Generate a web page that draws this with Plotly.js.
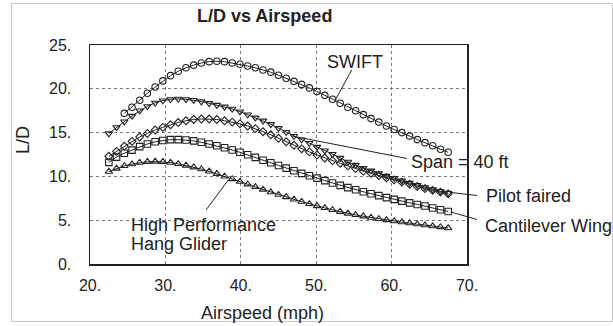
<!DOCTYPE html>
<html>
<head>
<meta charset="utf-8">
<script src="https://cdn.plot.ly/plotly-3.0.1.min.js"></script>
<style>
  html, body { margin: 0; padding: 0; background: #fff; }
  #chart { width: 613px; height: 326px; }
</style>
</head>
<body>
<div id="chart"></div>
<script>
// Airspeed (mph)
const airspeed = [22.50, 23.52, 24.55, 25.57, 26.59, 27.61, 28.64, 29.66, 30.68, 31.70,
  32.73, 33.75, 34.77, 35.80, 36.82, 37.84, 38.86, 39.89, 40.91, 41.93,
  42.95, 43.98, 45.00, 46.02, 47.05, 48.07, 49.09, 50.11, 51.14, 52.16,
  53.18, 54.20, 55.23, 56.25, 57.27, 58.30, 59.32, 60.34, 61.36, 62.39,
  63.41, 64.43, 65.45, 66.48, 67.50];

const swift = [null, null, 17.2, 17.9, 18.7, 19.5, 20.2, 20.9, 21.5, 22.0,
  22.4, 22.7, 22.95, 23.1, 23.15, 23.1, 22.95, 22.8, 22.6, 22.4,
  22.15, 21.9, 21.55, 21.2, 20.85, 20.5, 20.1, 19.7, 19.25, 18.8,
  18.35, 17.9, 17.5, 17.05, 16.6, 16.2, 15.75, 15.35, 15.0, 14.6,
  14.2, 13.85, 13.5, 13.1, 12.75];

const span40 = [14.9, 15.6, 16.25, 16.9, 17.5, 18.0, 18.4, 18.65, 18.8, 18.85,
  18.8, 18.7, 18.55, 18.35, 18.15, 17.95, 17.7, 17.4, 17.05, 16.7,
  16.35, 15.95, 15.5, 15.05, 14.6, 14.2, 13.8, 13.35, 12.95, 12.55,
  12.1, 11.65, 11.3, 10.95, 10.65, 10.35, 10.05, 9.8, 9.5, 9.25,
  9.0, 8.75, 8.5, 8.3, 8.1];

const pilotFaired = [12.3, 12.85, 13.45, 14.0, 14.5, 14.9, 15.3, 15.6, 15.9, 16.15,
  16.35, 16.5, 16.55, 16.55, 16.5, 16.35, 16.2, 16.0, 15.75, 15.45,
  15.1, 14.75, 14.35, 13.95, 13.55, 13.15, 12.8, 12.45, 12.1, 11.8,
  11.5, 11.2, 10.9, 10.6, 10.35, 10.1, 9.85, 9.6, 9.35, 9.1,
  8.85, 8.6, 8.4, 8.2, 8.0];

const cantilever = [11.6, 12.2, 12.65, 13.0, 13.4, 13.7, 13.95, 14.1, 14.2, 14.2,
  14.15, 14.05, 13.9, 13.7, 13.5, 13.27, 13.02, 12.75, 12.47, 12.17,
  11.85, 11.55, 11.25, 10.95, 10.65, 10.35, 10.08, 9.8, 9.52, 9.25,
  8.98, 8.72, 8.48, 8.25, 8.02, 7.8, 7.58, 7.38, 7.18, 6.98,
  6.8, 6.62, 6.4, 6.2, 6.0];

const hangGlider = [10.55, 10.9, 11.2, 11.4, 11.57, 11.67, 11.7, 11.67, 11.58, 11.43,
  11.25, 11.05, 10.83, 10.58, 10.3, 10.0, 9.7, 9.4, 9.1, 8.8,
  8.5, 8.2, 7.92, 7.65, 7.38, 7.12, 6.86, 6.62, 6.4, 6.18,
  5.97, 5.77, 5.6, 5.45, 5.3, 5.15, 5.02, 4.9, 4.78, 4.66,
  4.55, 4.44, 4.33, 4.22, 4.1];

const xTickVals = [20, 30, 40, 50, 60, 70];
const xTickText = ['20.', '30.', '40.', '50.', '60.', '70.'];
const yTickVals = [0, 5, 10, 15, 20, 25];
const yTickText = ['0.', '5.', '10.', '15.', '20.', '25.'];

const FONT = 'Liberation Sans, Arial, sans-serif';
const INK = '#222';

function series(name, y, symbol, size) {
  return {
    type: 'scatter', mode: 'lines+markers', name: name,
    x: airspeed, y: y,
    line: { color: INK, width: 1 },
    marker: { symbol: symbol, size: size, color: INK, line: { color: INK, width: 1.1 } },
    connectgaps: false, hoverinfo: 'skip'
  };
}

const data = [
  series('High Performance Hang Glider', hangGlider, 'triangle-up-open', 6.5),
  series('Cantilever Wing', cantilever, 'square-open', 6.5),
  series('Pilot faired', pilotFaired, 'diamond-open', 6),
  series('Span = 40 ft', span40, 'triangle-down-open', 6.5),
  series('SWIFT', swift, 'circle-open', 6.5)
];

function px(x) { return (x - 90) / 377; }
function py(y) { return (264 - y) / 219; }

function seg(x0, y0, x1, y1, color, w) {
  return { type: 'line', xref: 'paper', yref: 'paper',
    x0: px(x0), y0: py(y0), x1: px(x1), y1: py(y1),
    line: { color: color || INK, width: w || 1 } };
}

function label(text, x, y, opts) {
  return Object.assign({ xref: 'paper', yref: 'paper', x: px(x), y: py(y), text: text,
    showarrow: false, xanchor: 'left', yanchor: 'middle',
    font: { family: FONT, size: 18, color: INK } }, opts || {});
}

const layout = {
  width: 613, height: 326,
  margin: { l: 90, r: 146, t: 45, b: 62 },
  paper_bgcolor: '#fff', plot_bgcolor: '#fff',
  showlegend: false,
  xaxis: {
    range: [20, 70], tickvals: xTickVals, ticktext: xTickText,
    showgrid: true, gridcolor: '#777', griddash: 'dot', gridwidth: 1,
    zeroline: false, showline: true, mirror: true, linecolor: INK, linewidth: 1.5,
    ticks: '', ticklabelstandoff: 6,
    tickfont: { family: FONT, size: 16, color: INK }
  },
  yaxis: {
    range: [0, 25], tickvals: yTickVals, ticktext: yTickText,
    showgrid: true, gridcolor: '#777', griddash: 'dot', gridwidth: 1,
    zeroline: false, showline: true, mirror: true, linecolor: INK, linewidth: 1.5,
    ticks: '', ticklabelstandoff: 14,
    tickfont: { family: FONT, size: 16, color: INK }
  },
  shapes: [
    { type: 'rect', xref: 'paper', yref: 'paper', x0: px(11.5), y0: py(3.5), x1: px(612.5), y1: py(321.5),
      line: { color: '#c8c8c8', width: 1 }, layer: 'below' },
    seg(351.7, 70, 335, 100.5),
    seg(292, 136, 407, 158.5),
    seg(451, 192.5, 477, 195.5),
    seg(451, 212, 477, 219.5),
    seg(206, 210, 228.3, 180)
  ],
  annotations: [
    label('<b>L/D vs Airspeed</b>', 264.5, 16, { xanchor: 'center' }),
    label('SWIFT', 325, 62),
    label('Span = 40 ft', 408.5, 162),
    label('Pilot faired', 484, 196),
    label('Cantilever Wing', 483, 226),
    label('High Performance', 128.5, 225),
    label('Hang Glider', 128.5, 244),
    label('Airspeed (mph)', 262, 313, { xanchor: 'center' }),
    label('L/D', 23, 140, { xanchor: 'center', textangle: -90 })
  ]
};

Plotly.newPlot('chart', data, layout, { staticPlot: true, displayModeBar: false });
</script>
</body>
</html>
